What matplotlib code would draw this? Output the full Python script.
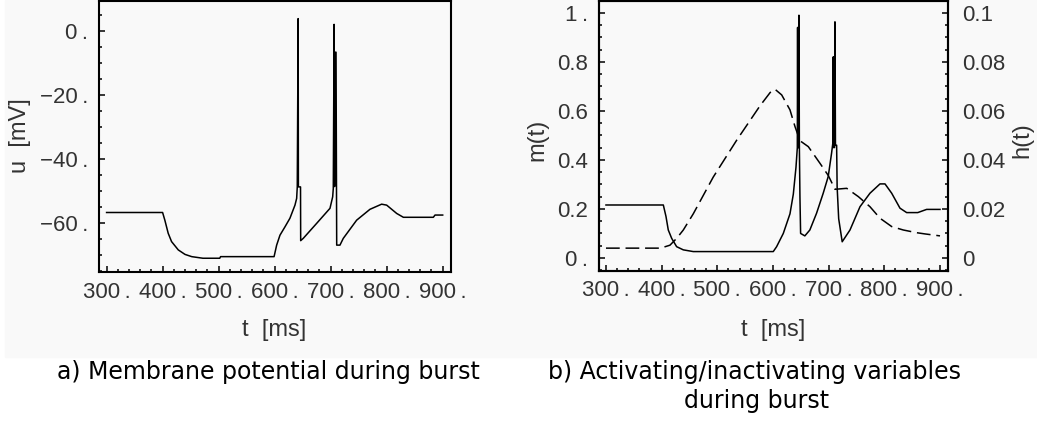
import matplotlib
matplotlib.use("Agg")
import matplotlib.pyplot as plt
from matplotlib.patches import Rectangle
from matplotlib.ticker import MultipleLocator

plt.rcParams['font.family'] = ['Liberation Sans Narrow', 'Liberation Sans', 'DejaVu Sans']

W, H = 1037, 423  # размер картинки в пикселях

# a) мембранный потенциал u(t), мВ
t_u = [300, 400, 404, 410, 416, 428, 440, 452, 472, 502,
       503.5, 599, 603.6, 609.5, 618.4, 627.3, 636.3, 639.3, 640.4, 642.0,
       642.4, 646.2, 646.5, 651, 675, 698.8, 703.6, 704.7, 706.2, 707.0,
       707.8, 709.6, 710.4, 710.8, 716.6, 722.5, 746.4, 770.2, 791, 800,
       817.9, 829.8, 883.3, 886.3, 900]
u_vals = [-56.6, -56.6, -59, -63.1, -65.7, -68.3, -69.7, -70.4, -70.9, -70.9,
          -70.4, -70.4, -66.8, -63.7, -61.1, -58.4, -54.3, -52.2, -48.6, 4.0,
          -48.6, -48.6, -65.4, -64.7, -60, -55.3, -51.7, -49.1, 2.2, -48.5,
          -6.5, -6.5, -48.5, -66.8, -66.8, -64.7, -59, -55.6, -54, -54.3,
          -56.9, -58.1, -58.1, -57.4, -57.4]

# b) активирующая m(t) (сплошная)
t_m = [300, 403, 407.8, 411.9, 418, 426.9, 438.9, 456.8, 600.5, 606.5,
       618.5, 630.5, 636.5, 641.3, 643.7, 644.2, 644.7, 645.2, 645.7, 646.6,
       647.4, 648.4, 649.6, 657.2, 666.2, 678.2, 690.2, 699.2, 705.2, 707.6,
       708.2, 708.8, 709.5, 710.3, 711.3, 712.2, 714.3, 715.2, 718, 724.3,
       738.3, 756.3, 774.2, 792.2, 801.2, 813.2, 828.1, 840.1, 860, 876,
       900]
m_vals = [0.216, 0.216, 0.169, 0.114, 0.080, 0.046, 0.033, 0.026, 0.026, 0.046,
          0.1, 0.18, 0.26, 0.37, 0.45, 0.94, 0.45, 0.94, 0.45, 0.99,
          0.45, 0.25, 0.1, 0.09, 0.114, 0.182, 0.264, 0.332, 0.427, 0.47,
          0.82, 0.45, 0.82, 0.45, 0.963, 0.46, 0.46, 0.29, 0.16, 0.066,
          0.114, 0.209, 0.264, 0.302, 0.302, 0.264, 0.203, 0.185, 0.185, 0.198,
          0.198]

# b) инактивирующая h(t) (пунктир, правая ось)
t_h = [300, 398, 414.9, 427, 438.9, 456.8, 492.7, 534.7, 552.6, 576.5,
       595, 603.6, 615.6, 630.5, 639.5, 648.5, 663.4, 684.4, 699.4, 711.4,
       732.4, 753.4, 774.2, 792.2, 813.2, 834.1, 858, 873, 900]
h_vals = [0.0040, 0.0040, 0.0052, 0.0080, 0.0114, 0.0180, 0.0330, 0.0480, 0.0540, 0.0620,
          0.0675, 0.0688, 0.0665, 0.0604, 0.0536, 0.0478, 0.0454, 0.0386, 0.0336, 0.0280,
          0.0284, 0.0250, 0.0209, 0.0162, 0.0128, 0.0114, 0.0103, 0.0098, 0.0090]

t_ticks = [300, 400, 500, 600, 700, 800, 900]
t_labels = ["300\u2009.", "400\u2009.", "500\u2009.", "600\u2009.", "700\u2009.", "800\u2009.", "900\u2009."]
u_ticks = [0, -20, -40, -60]
u_labels = ["0\u2009.", "\u221220\u2009.", "\u221240\u2009.", "\u221260\u2009."]
m_ticks = [0, 0.2, 0.4, 0.6, 0.8, 1.0]
m_labels = ["0\u2009.", "0.2", "0.4", "0.6", "0.8", "1\u2009."]
h_ticks = [0, 0.02, 0.04, 0.06, 0.08, 0.1]
h_labels = ["0", "0.02", "0.04", "0.06", "0.08", "0.1"]

TXT = '#333333'
FS = 16


def px_axes(fig, x0, y0, x1, y1):
    return fig.add_axes([x0 / W, 1 - y1 / H, (x1 - x0) / W, (y1 - y0) / H])


def ftext(fig, x, y, s, **kw):
    return fig.text(x / W, 1 - y / H, s, **kw)


def style(ax, right_ticks=False):
    ax.set_facecolor('none')
    for sp in ax.spines.values():
        sp.set_linewidth(1.5)
    ax.tick_params(which='both', direction='in', top=False, right=right_ticks,
                   colors='black', labelcolor=TXT, labelsize=FS, width=1.1)
    ax.tick_params(which='major', length=4)
    ax.tick_params(which='minor', length=2.2)
    ax.tick_params(axis='x', pad=7)
    ax.tick_params(axis='y', pad=8)


fig = plt.figure(figsize=(W / 100, H / 100), dpi=100)
# чуть серый фон под вставленными графиками
fig.patches.append(Rectangle((5 / W, 1 - 357 / H), 1 - 5 / W, 357 / H,
                             transform=fig.transFigure, color='#f9f9f9', zorder=-10))

# --- a) ---
ax1 = px_axes(fig, 99.3, 0.7, 450.7, 272)
ax1.plot(t_u, u_vals, color='black', lw=1.1)
ax1.set_xlim(287, 914.3)
ax1.set_ylim(-75.2, 9.6)
ax1.set_xticks(t_ticks, t_labels)
ax1.set_yticks(u_ticks, u_labels)
ax1.xaxis.set_minor_locator(MultipleLocator(20))
ax1.yaxis.set_minor_locator(MultipleLocator(5))
style(ax1)
ftext(fig, 20, 136, "u  [mV]", rotation=90, ha='center', va='center', fontsize=FS + 1, color=TXT)
ftext(fig, 274, 330, "t  [ms]", ha='center', va='center', fontsize=FS + 1, color=TXT)

# --- b) ---
ax2 = px_axes(fig, 599.3, 1, 948.3, 270.7)
ax2.plot(t_m, m_vals, color='black', lw=1.1)
ax2.set_xlim(288, 914.9)
ax2.set_ylim(-0.052, 1.048)
ax2.set_xticks(t_ticks, t_labels)
ax2.set_yticks(m_ticks, m_labels)
ax2.xaxis.set_minor_locator(MultipleLocator(20))
ax2.yaxis.set_minor_locator(MultipleLocator(0.05))
style(ax2)

ax3 = ax2.twinx()
ax3.plot(t_h, h_vals, color='black', lw=1.1, ls=(0, (9, 3.8)))
ax3.set_ylim(-0.0052, 0.1048)
ax3.set_yticks(h_ticks, h_labels)
ax3.yaxis.set_minor_locator(MultipleLocator(0.005))
style(ax3, right_ticks=True)
ax3.tick_params(axis='y', which='both', left=False, right=True, pad=10)

ftext(fig, 537, 140, "m(t)", rotation=90, ha='center', va='center', fontsize=FS + 1, color=TXT)
ftext(fig, 1022, 140, "h(t)", rotation=90, ha='center', va='center', fontsize=FS + 1, color=TXT)
ftext(fig, 773, 330, "t  [ms]", ha='center', va='center', fontsize=FS + 1, color=TXT)

# подписи
cap = dict(fontsize=17, family='DejaVu Sans', color='black', ha='center', va='center')
ftext(fig, 268, 372, "a) Membrane potential during burst", **cap)
ftext(fig, 754, 372, "b) Activating/inactivating variables", **cap)
ftext(fig, 757, 401, "during burst", **cap)

fig.savefig("out.png", dpi=100)
